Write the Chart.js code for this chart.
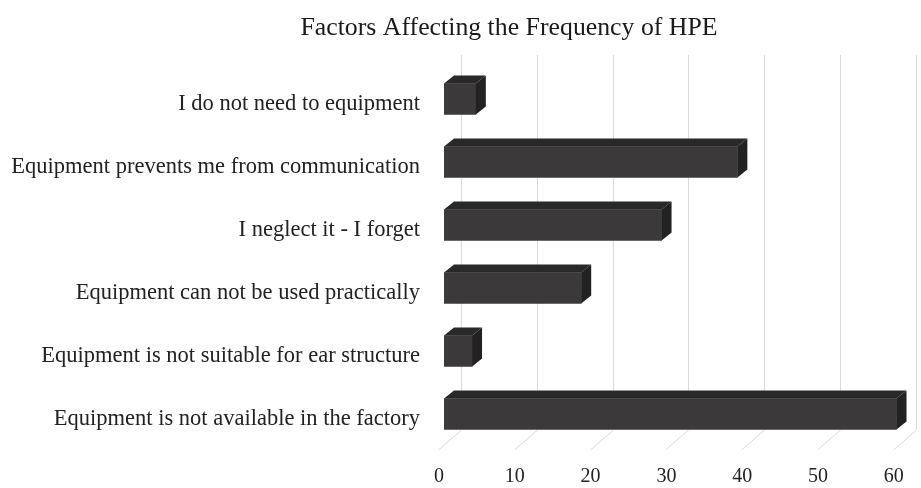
<!DOCTYPE html>
<html>
<head>
<meta charset="utf-8">
<script src="https://cdn.jsdelivr.net/npm/chart.js@4/dist/chart.umd.min.js"></script>
<style>
  html, body { margin: 0; padding: 0; background: #fff; }
  #wrap { width: 921px; height: 488px; }
</style>
</head>
<body>
<div id="wrap"><canvas id="myChart" width="921" height="488"></canvas></div>
<script>
// donnees
const chartTitle = 'Factors Affecting the Frequency of HPE';
const categories = [
  'I do not need to equipment',
  'Equipment prevents me from communication',
  'I neglect it - I forget',
  'Equipment can not be used practically',
  'Equipment is not suitable for ear structure',
  'Equipment is not available in the factory'
];
const values = [4.2, 38.7, 28.7, 18.1, 3.7, 59.7];
const xTicks = [0, 10, 20, 30, 40, 50, 60];

const serif = '"Liberation Serif", "Times New Roman", serif';
const depthX = 10, depthY = -8;     // profondeur des barres
const wallX = 17;                   // decalage du mur du fond
const floorX = -6, floorY = 20;     // avant du sol

// titre centre comme sur l'original (decale vers la droite)
const titre = {
  id: 'titre',
  afterDraw(chart) {
    const ctx = chart.ctx;
    ctx.save();
    ctx.fillStyle = '#1a1a1a';
    ctx.font = '25.8px ' + serif;
    ctx.textAlign = 'center';
    ctx.textBaseline = 'alphabetic';
    ctx.fillText(chartTitle, 509, 35);
    ctx.restore();
  }
};

// grille 3D (mur + sol)
const grid3d = {
  id: 'grid3d',
  beforeDatasetsDraw(chart) {
    const ctx = chart.ctx;
    const xs = chart.scales.x;
    const area = chart.chartArea;
    const floorBack = area.bottom - 15.5;
    ctx.save();
    ctx.strokeStyle = '#d9d9d9';
    ctx.lineWidth = 1;
    xs.ticks.forEach(function (t) {
      const px = Math.round(xs.getPixelForValue(t.value)) + 0.5;
      ctx.beginPath();
      ctx.moveTo(px + wallX, 55);
      ctx.lineTo(px + wallX, floorBack);
      ctx.lineTo(px + floorX, floorBack + floorY);
      ctx.stroke();
    });
    ctx.restore();
  }
};

// faces du dessus et de droite des barres
const bars3d = {
  id: 'bars3d',
  afterDatasetsDraw(chart) {
    const ctx = chart.ctx;
    const meta = chart.getDatasetMeta(0);
    ctx.save();
    meta.data.forEach(function (bar) {
      const p = bar.getProps(['x', 'y', 'base', 'height'], true);
      const top = p.y - p.height / 2;
      const bottom = p.y + p.height / 2;
      // dessus
      ctx.fillStyle = '#2a2929';
      ctx.beginPath();
      ctx.moveTo(p.base, top);
      ctx.lineTo(p.base + depthX, top + depthY);
      ctx.lineTo(p.x + depthX, top + depthY);
      ctx.lineTo(p.x, top);
      ctx.closePath();
      ctx.fill();
      // cote droit
      ctx.fillStyle = '#232222';
      ctx.beginPath();
      ctx.moveTo(p.x, top);
      ctx.lineTo(p.x + depthX, top + depthY);
      ctx.lineTo(p.x + depthX, bottom + depthY);
      ctx.lineTo(p.x, bottom);
      ctx.closePath();
      ctx.fill();
    });
    ctx.restore();
  }
};

new Chart(document.getElementById('myChart'), {
  type: 'bar',
  data: {
    labels: categories,
    datasets: [{
      label: 'Factors',
      data: values,
      backgroundColor: '#3b393a',
      barThickness: 31
    }]
  },
  options: {
    indexAxis: 'y',
    responsive: false,
    animation: false,
    layout: { padding: { left: 0, right: 22.2, top: 67.5, bottom: 0 } },
    plugins: {
      legend: { display: false },
      tooltip: { enabled: false },
      title: { display: false }
    },
    scales: {
      x: {
        min: 0,
        max: 60,
        afterBuildTicks(scale) {
          scale.ticks = xTicks.map(function (v) { return { value: v }; });
        },
        afterFit(scale) {
          scale.height = 42.5;
          // pas de marge auto due aux etiquettes
          scale.paddingLeft = 0;
          scale.paddingRight = 0;
        },
        grid: { display: false, drawTicks: false },
        border: { display: false },
        ticks: {
          color: '#222',
          font: { family: serif, size: 20 },
          padding: 19,
          labelOffset: -5,
          maxRotation: 0
        }
      },
      y: {
        afterFit(scale) { scale.width = 444; },
        grid: { display: false, drawTicks: false },
        border: { display: false },
        ticks: {
          color: '#222',
          font: { family: serif, size: 22.5 },
          padding: 24,
          labelOffset: 5
        }
      }
    }
  },
  plugins: [grid3d, bars3d, titre]
});
</script>
</body>
</html>
